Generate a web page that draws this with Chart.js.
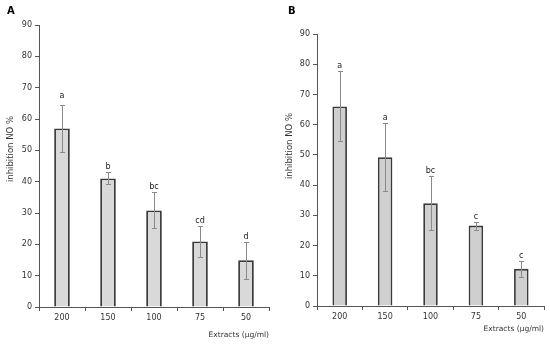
<!DOCTYPE html>
<html>
<head>
<meta charset="utf-8">
<script src="https://cdn.jsdelivr.net/npm/chart.js@4.4.1/dist/chart.umd.min.js"></script>
<style>
  html, body { margin: 0; padding: 0; background: #fff; }
  .panel { position: absolute; top: 0; width: 275px; height: 345px; }
  #panel-a { left: 0; }
  #panel-b { left: 275px; }
</style>
</head>
<body>
<div class="panel" id="panel-a"><canvas id="chart-a" width="275" height="345"></canvas></div>
<div class="panel" id="panel-b"><canvas id="chart-b" width="275" height="345"></canvas></div>
<script>
const categories = ["200", "150", "100", "75", "50"];

const meansA = [57, 41, 30.8, 20.9, 14.9];
const lowA = [49.4, 39.3, 25.1, 15.9, 8.8];
const highA = [64.5, 43, 36.6, 25.7, 20.9];
const lettersA = ["a", "b", "bc", "cd", "d"];

const meansB = [66, 49.2, 34, 26.6, 12.3];
const lowB = [54.6, 38, 25.1, 25.3, 9.5];
const highB = [77.9, 60.4, 43, 27.8, 14.9];
const lettersB = ["a", "a", "bc", "c", "c"];

const yTicks = [0, 10, 20, 30, 40, 50, 60, 70, 80, 90];

const FONT = "DejaVu Sans";

// error bars, significance letters, panel letter and the y title
const errorBarPlugin = {
  id: "errorBars",
  afterDatasetsDraw(chart, args, opts) {
    const { ctx } = chart;
    const yScale = chart.scales.y;
    const meta = chart.getDatasetMeta(0);
    ctx.save();
    meta.data.forEach((bar, i) => {
      const x = Math.round(bar.x) + 0.5;
      const top = Math.round(yScale.getPixelForValue(opts.high[i])) + 0.5;
      const bottom = Math.round(yScale.getPixelForValue(opts.low[i])) + 0.5;
      ctx.strokeStyle = "#8a8a8a";
      ctx.lineWidth = 1;
      ctx.beginPath();
      ctx.moveTo(x, top);
      ctx.lineTo(x, bottom);
      ctx.moveTo(x - 2.5, top);
      ctx.lineTo(x + 2.5, top);
      ctx.moveTo(x - 2.5, bottom);
      ctx.lineTo(x + 2.5, bottom);
      ctx.stroke();

      ctx.fillStyle = "#222";
      ctx.font = "8px " + FONT;
      ctx.textAlign = "center";
      ctx.textBaseline = "alphabetic";
      ctx.fillText(opts.letters[i], bar.x, top - opts.letterGap[i]);
    });

    ctx.fillStyle = "#000";
    ctx.font = "bold 10px " + FONT;
    ctx.textAlign = "left";
    ctx.fillText(opts.panel, opts.panelX, 14);

    ctx.translate(opts.titleX, opts.titleY);
    ctx.rotate(-Math.PI / 2);
    ctx.fillStyle = "#333";
    ctx.font = "8.5px " + FONT;
    ctx.textAlign = "center";
    ctx.textBaseline = "middle";
    ctx.fillText("inhibition NO %", 0, 0);
    ctx.restore();
  },
};

function buildChart(canvasId, means, low, high, letters, letterGap, fill, panel, box) {
  return new Chart(document.getElementById(canvasId), {
    type: "bar",
    data: {
      labels: categories,
      datasets: [
        {
          data: means,
          backgroundColor: fill,
          borderColor: "#3a3a3a",
          borderWidth: 1.8,
          categoryPercentage: 1,
          barPercentage: box.barPct,
        },
      ],
    },
    options: {
      responsive: false,
      animation: false,
      events: [],
      layout: { padding: { top: box.top, right: 6, left: 0, bottom: 0 } },
      plugins: {
        legend: { display: false },
        tooltip: { enabled: false },
        errorBars: {
          low, high, letters, letterGap, panel,
          panelX: box.panelX, titleX: box.titleX, titleY: box.titleY,
        },
      },
      scales: {
        y: {
          min: 0,
          max: 90,
          afterBuildTicks: (scale) => {
            scale.ticks = yTicks.map((v) => ({ value: v }));
          },
          afterFit: (scale) => {
            scale.width = box.left;
          },
          ticks: { font: { family: FONT, size: 8 }, color: "#333", padding: 3 },
          grid: { drawOnChartArea: false, tickLength: 4, color: "#555" },
          border: { color: "#555" },
        },
        x: {
          afterFit: (scale) => {
            scale.height = box.bottom;
          },
          ticks: { font: { family: FONT, size: 8 }, color: "#333", padding: 2 },
          grid: { offset: true, drawOnChartArea: false, tickLength: 4, color: "#555" },
          border: { color: "#555" },
          title: {
            display: true,
            text: "Extracts (µg/ml)",
            align: "end",
            font: { family: FONT, size: 7.5 },
            color: "#333",
            padding: { top: 0, bottom: box.titlePad },
          },
        },
      },
    },
    plugins: [errorBarPlugin],
  });
}

buildChart("chart-a", meansA, lowA, highA, lettersA, [8, 4, 4, 4, 4], "#d9d9d9", "A",
  { top: 25, left: 39, bottom: 38, titlePad: 5, barPct: 0.34, panelX: 7, titleX: 11, titleY: 149 });
buildChart("chart-b", meansB, lowB, highB, lettersB, [4, 4, 4, 4, 4], "#cfcfcf", "B",
  { top: 34, left: 42, bottom: 39, titlePad: 11, barPct: 0.32, panelX: 13, titleX: 15, titleY: 146 });
</script>
</body>
</html>
